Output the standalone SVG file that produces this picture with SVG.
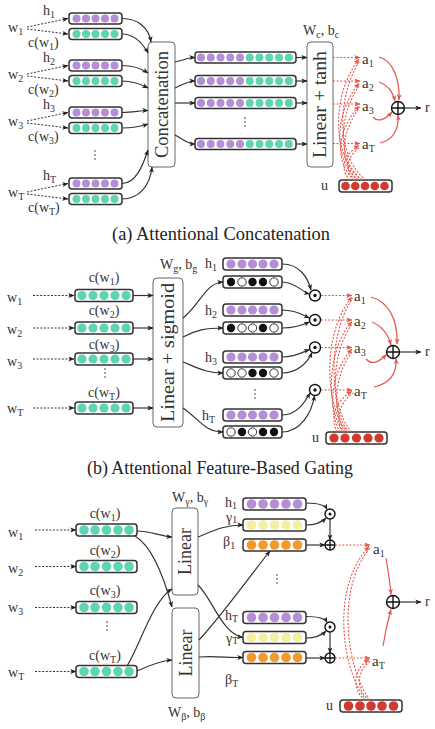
<svg xmlns="http://www.w3.org/2000/svg" width="435" height="729" viewBox="0 0 435 729">
<style>
text{font-family:"Liberation Serif","DejaVu Serif",serif;fill:#333;font-size:14px}
.s{font-size:10px}
.lb{font-size:15px}
.big{font-size:18px}
.cap{font-size:18px;fill:#222}
.box{fill:#fff;stroke:#333;stroke-width:1.5}
.lbox{fill:#fff;stroke:#666;stroke-width:1}
.c{stroke:#333;stroke-width:1.2;fill:none}
.d{stroke:#333;stroke-width:1;stroke-dasharray:2 1.6;fill:none}
.rd{stroke:#E4574C;stroke-width:1.1;stroke-dasharray:2 1.6;fill:none}
.rs{stroke:#E4574C;stroke-width:1.2;fill:none}
.p{fill:#B58FD6}
.g{fill:#5FD4B2}
.y{fill:#F4EFA2}
.o{fill:#F29A2C}
.r{fill:#D23A31}
.k{fill:#111}
.w{fill:#fff;stroke:#222;stroke-width:0.9}
.op{fill:#fff;stroke:#111;stroke-width:1.4}
.dot{fill:#333}
</style>
<defs>
<marker id="ah" viewBox="0 0 8 8" refX="7.5" refY="4" markerWidth="6" markerHeight="6" orient="auto" markerUnits="userSpaceOnUse"><path d="M0,0.8 L8,4 L0,7.2 L2,4 z" fill="#222"/></marker>
<marker id="ar" viewBox="0 0 8 8" refX="7.5" refY="4" markerWidth="6" markerHeight="6" orient="auto" markerUnits="userSpaceOnUse"><path d="M0,0.8 L8,4 L0,7.2 L2,4 z" fill="#E4574C"/></marker>
</defs>

<!-- ================= Panel (a) ================= -->
<g id="a-inputs">
<text x="8" y="32">w<tspan class="s" dy="3">1</tspan></text>
<text x="8" y="79">w<tspan class="s" dy="3">2</tspan></text>
<text x="8" y="126">w<tspan class="s" dy="3">3</tspan></text>
<text x="8" y="197">w<tspan class="s" dy="3">T</tspan></text>
<text x="43" y="15">h<tspan class="s" dy="3">1</tspan></text>
<text x="43" y="62">h<tspan class="s" dy="3">2</tspan></text>
<text x="43" y="109">h<tspan class="s" dy="3">3</tspan></text>
<text x="43" y="180">h<tspan class="s" dy="3">T</tspan></text>
<text x="28" y="47">c(w<tspan class="s" dy="3">1</tspan><tspan dy="-3">)</tspan></text>
<text x="28" y="94">c(w<tspan class="s" dy="3">2</tspan><tspan dy="-3">)</tspan></text>
<text x="28" y="141">c(w<tspan class="s" dy="3">3</tspan><tspan dy="-3">)</tspan></text>
<text x="28" y="212">c(w<tspan class="s" dy="3">T</tspan><tspan dy="-3">)</tspan></text>
<circle class="dot" cx="95" cy="151" r="0.8"/><circle class="dot" cx="95" cy="155" r="0.8"/><circle class="dot" cx="95" cy="159" r="0.8"/>
</g>
<g id="a-h1"><rect class="box" x="69" y="13" width="53" height="11" rx="3"/>
<circle class="p" cx="76.5" cy="18.5" r="4"/><circle class="p" cx="86" cy="18.5" r="4"/><circle class="p" cx="95.5" cy="18.5" r="4"/><circle class="p" cx="105" cy="18.5" r="4"/><circle class="p" cx="114.5" cy="18.5" r="4"/></g>
<g id="a-c1"><rect class="box" x="69" y="28.5" width="53" height="11" rx="3"/>
<circle class="g" cx="76.5" cy="34" r="4"/><circle class="g" cx="86" cy="34" r="4"/><circle class="g" cx="95.5" cy="34" r="4"/><circle class="g" cx="105" cy="34" r="4"/><circle class="g" cx="114.5" cy="34" r="4"/></g>
<g id="a-h2"><rect class="box" x="69" y="60" width="53" height="11" rx="3"/>
<circle class="p" cx="76.5" cy="65.5" r="4"/><circle class="p" cx="86" cy="65.5" r="4"/><circle class="p" cx="95.5" cy="65.5" r="4"/><circle class="p" cx="105" cy="65.5" r="4"/><circle class="p" cx="114.5" cy="65.5" r="4"/></g>
<g id="a-c2"><rect class="box" x="69" y="75.5" width="53" height="11" rx="3"/>
<circle class="g" cx="76.5" cy="81" r="4"/><circle class="g" cx="86" cy="81" r="4"/><circle class="g" cx="95.5" cy="81" r="4"/><circle class="g" cx="105" cy="81" r="4"/><circle class="g" cx="114.5" cy="81" r="4"/></g>
<g id="a-h3"><rect class="box" x="69" y="107" width="53" height="11" rx="3"/>
<circle class="p" cx="76.5" cy="112.5" r="4"/><circle class="p" cx="86" cy="112.5" r="4"/><circle class="p" cx="95.5" cy="112.5" r="4"/><circle class="p" cx="105" cy="112.5" r="4"/><circle class="p" cx="114.5" cy="112.5" r="4"/></g>
<g id="a-c3"><rect class="box" x="69" y="122.5" width="53" height="11" rx="3"/>
<circle class="g" cx="76.5" cy="128" r="4"/><circle class="g" cx="86" cy="128" r="4"/><circle class="g" cx="95.5" cy="128" r="4"/><circle class="g" cx="105" cy="128" r="4"/><circle class="g" cx="114.5" cy="128" r="4"/></g>
<g id="a-hT"><rect class="box" x="69" y="178" width="53" height="11" rx="3"/>
<circle class="p" cx="76.5" cy="183.5" r="4"/><circle class="p" cx="86" cy="183.5" r="4"/><circle class="p" cx="95.5" cy="183.5" r="4"/><circle class="p" cx="105" cy="183.5" r="4"/><circle class="p" cx="114.5" cy="183.5" r="4"/></g>
<g id="a-cT"><rect class="box" x="69" y="193.5" width="53" height="11" rx="3"/>
<circle class="g" cx="76.5" cy="199" r="4"/><circle class="g" cx="86" cy="199" r="4"/><circle class="g" cx="95.5" cy="199" r="4"/><circle class="g" cx="105" cy="199" r="4"/><circle class="g" cx="114.5" cy="199" r="4"/></g>

<g id="a-concat"><rect class="lbox" x="148" y="42" width="27" height="125" rx="4"/>
<text class="big" transform="translate(161.5,104.5) rotate(-90)" text-anchor="middle" dominant-baseline="central" textLength="107" lengthAdjust="spacingAndGlyphs">Concatenation</text></g>

<g id="a-l1"><rect class="box" x="195" y="52" width="101" height="11" rx="3"/>
<circle class="p" cx="201" cy="57.5" r="4"/><circle class="p" cx="210.75" cy="57.5" r="4"/><circle class="p" cx="220.5" cy="57.5" r="4"/><circle class="p" cx="230.25" cy="57.5" r="4"/><circle class="p" cx="240" cy="57.5" r="4"/><circle class="g" cx="249.75" cy="57.5" r="4"/><circle class="g" cx="259.5" cy="57.5" r="4"/><circle class="g" cx="269.25" cy="57.5" r="4"/><circle class="g" cx="279" cy="57.5" r="4"/><circle class="g" cx="288.75" cy="57.5" r="4"/></g>
<g id="a-l2"><rect class="box" x="195" y="75.5" width="101" height="11" rx="3"/>
<circle class="p" cx="201" cy="81" r="4"/><circle class="p" cx="210.75" cy="81" r="4"/><circle class="p" cx="220.5" cy="81" r="4"/><circle class="p" cx="230.25" cy="81" r="4"/><circle class="p" cx="240" cy="81" r="4"/><circle class="g" cx="249.75" cy="81" r="4"/><circle class="g" cx="259.5" cy="81" r="4"/><circle class="g" cx="269.25" cy="81" r="4"/><circle class="g" cx="279" cy="81" r="4"/><circle class="g" cx="288.75" cy="81" r="4"/></g>
<g id="a-l3"><rect class="box" x="195" y="97.5" width="101" height="11" rx="3"/>
<circle class="p" cx="201" cy="103" r="4"/><circle class="p" cx="210.75" cy="103" r="4"/><circle class="p" cx="220.5" cy="103" r="4"/><circle class="p" cx="230.25" cy="103" r="4"/><circle class="p" cx="240" cy="103" r="4"/><circle class="g" cx="249.75" cy="103" r="4"/><circle class="g" cx="259.5" cy="103" r="4"/><circle class="g" cx="269.25" cy="103" r="4"/><circle class="g" cx="279" cy="103" r="4"/><circle class="g" cx="288.75" cy="103" r="4"/></g>
<g id="a-lT"><rect class="box" x="195" y="138.5" width="101" height="11" rx="3"/>
<circle class="p" cx="201" cy="144" r="4"/><circle class="p" cx="210.75" cy="144" r="4"/><circle class="p" cx="220.5" cy="144" r="4"/><circle class="p" cx="230.25" cy="144" r="4"/><circle class="p" cx="240" cy="144" r="4"/><circle class="g" cx="249.75" cy="144" r="4"/><circle class="g" cx="259.5" cy="144" r="4"/><circle class="g" cx="269.25" cy="144" r="4"/><circle class="g" cx="279" cy="144" r="4"/><circle class="g" cx="288.75" cy="144" r="4"/></g>
<g id="a-ldots"><circle class="dot" cx="245" cy="118" r="0.8"/><circle class="dot" cx="245" cy="122" r="0.8"/><circle class="dot" cx="245" cy="126" r="0.8"/></g>

<g id="a-tanh"><rect class="lbox" x="307" y="42" width="26" height="125" rx="4"/>
<text class="big" transform="translate(320,104.5) rotate(-90)" text-anchor="middle" dominant-baseline="central" textLength="107" lengthAdjust="spacingAndGlyphs">Linear + tanh</text>
<text x="303" y="35">W<tspan class="s" dy="3">c</tspan><tspan dy="-3">, b</tspan><tspan class="s" dy="3">c</tspan></text></g>

<g id="a-att">
<text class="lb" x="362" y="64">a<tspan class="s" dy="3">1</tspan></text>
<text class="lb" x="362" y="88">a<tspan class="s" dy="3">2</tspan></text>
<text class="lb" x="362" y="111">a<tspan class="s" dy="3">3</tspan></text>
<text class="lb" x="362" y="149">a<tspan class="s" dy="3">T</tspan></text>
</g>
<g id="a-sum"><circle class="op" cx="398" cy="108" r="6.5"/><path d="M391.5,108 H404.5 M398,101.5 V114.5" stroke="#111" stroke-width="1.4"/>
<text x="425" y="112">r</text></g>
<g id="a-u"><text x="321" y="190">u</text><rect class="box" x="339" y="180" width="53" height="12" rx="3"/>
<circle class="r" cx="345.5" cy="186" r="4.3"/><circle class="r" cx="355.25" cy="186" r="4.3"/><circle class="r" cx="365" cy="186" r="4.3"/><circle class="r" cx="374.75" cy="186" r="4.3"/><circle class="r" cx="384.5" cy="186" r="4.3"/></g>

<g id="a-connectors">
<path class="d" d="M27,27 L68,18.5" marker-end="url(#ah)"/><path class="d" d="M27,29 L68,34" marker-end="url(#ah)"/>
<path class="d" d="M27,74 L68,65.5" marker-end="url(#ah)"/><path class="d" d="M27,76 L68,81" marker-end="url(#ah)"/>
<path class="d" d="M27,121 L68,112.5" marker-end="url(#ah)"/><path class="d" d="M27,123 L68,128" marker-end="url(#ah)"/>
<path class="d" d="M27,192 L68,183.5" marker-end="url(#ah)"/><path class="d" d="M27,194 L68,199" marker-end="url(#ah)"/>
<path class="c" d="M122,18.5 C138,18.5 149,28 151,42" marker-end="url(#ah)"/>
<path class="c" d="M122,34 C135,34 143,44 148,53" marker-end="url(#ah)"/>
<path class="c" d="M122,65.5 C135,65.5 142,69 148,73" marker-end="url(#ah)"/>
<path class="c" d="M122,81 C135,81 142,85 148,88" marker-end="url(#ah)"/>
<path class="c" d="M122,112.5 C133,112.5 140,110.5 148,110.5" marker-end="url(#ah)"/>
<path class="c" d="M122,128 C135,128 142,126 148,124" marker-end="url(#ah)"/>
<path class="c" d="M122,183.5 C136,183.5 143,165 148,150" marker-end="url(#ah)"/>
<path class="c" d="M122,199 C139,199 150,186 152,167" marker-end="url(#ah)"/>
<path class="c" d="M175,62 C184,60 188,57.5 195,57.5" marker-end="url(#ah)"/>
<path class="c" d="M175,88 C184,84 188,81 195,81" marker-end="url(#ah)"/>
<path class="c" d="M175,103 L195,103" marker-end="url(#ah)"/>
<path class="c" d="M175,135 C184,140 188,144 195,144" marker-end="url(#ah)"/>
<path class="c" d="M296,57.5 L307,57.5" marker-end="url(#ah)"/>
<path class="c" d="M296,81 L307,81" marker-end="url(#ah)"/>
<path class="c" d="M296,103 L307,103" marker-end="url(#ah)"/>
<path class="c" d="M296,144 L307,144" marker-end="url(#ah)"/>
<path class="rd" d="M333,57.5 L360,57.5" marker-end="url(#ar)"/>
<path class="rd" d="M333,81 L360,81" marker-end="url(#ar)"/>
<path class="rd" d="M333,104 L360,104" marker-end="url(#ar)"/>
<path class="rd" d="M333,143.5 L360,143.5" marker-end="url(#ar)"/>
<path class="rd" d="M362,180 C335,162 328,100 359,59" marker-end="url(#ar)"/>
<path class="rd" d="M366,180 C340,162 333,104 360,60" />
<path class="rd" d="M358,180 C335,162 332,118 359,83" marker-end="url(#ar)"/>
<path class="rd" d="M362,180 C339,162 336,120 360,84"/>
<path class="rd" d="M354,180 C335,162 336,132 359,106" marker-end="url(#ar)"/>
<path class="rd" d="M358,180 C339,162 340,134 360,107"/>
<path class="rd" d="M350,180 C340,170 342,156 359,145.5" marker-end="url(#ar)"/>
<path class="rd" d="M355,180 C344,170 346,158 360,147"/>
<path class="rs" d="M379,57 C392,60 400,78 399,100" marker-end="url(#ar)"/>
<path class="rs" d="M379,82 C388,85 393,92 395,101" marker-end="url(#ar)"/>
<path class="rs" d="M373,117 C378,123 386,119 392,112" marker-end="url(#ar)"/>
<path class="rs" d="M380,143 C394,140 399,128 398,115" marker-end="url(#ar)"/>
<path class="c" d="M404.5,108 L421,108" marker-end="url(#ah)"/>
</g>
<text class="cap" x="221" y="240" text-anchor="middle" textLength="218" lengthAdjust="spacingAndGlyphs">(a) Attentional Concatenation</text>

<!-- ================= Panel (b) ================= -->
<g id="b-inputs">
<text x="7" y="302">w<tspan class="s" dy="3">1</tspan></text>
<text x="7" y="334">w<tspan class="s" dy="3">2</tspan></text>
<text x="7" y="366">w<tspan class="s" dy="3">3</tspan></text>
<text x="7" y="413">w<tspan class="s" dy="3">T</tspan></text>
<text x="104" y="282" text-anchor="middle">c(w<tspan class="s" dy="3">1</tspan><tspan dy="-3">)</tspan></text>
<text x="104" y="315" text-anchor="middle">c(w<tspan class="s" dy="3">2</tspan><tspan dy="-3">)</tspan></text>
<text x="104" y="349" text-anchor="middle">c(w<tspan class="s" dy="3">3</tspan><tspan dy="-3">)</tspan></text>
<text x="104" y="397" text-anchor="middle">c(w<tspan class="s" dy="3">T</tspan><tspan dy="-3">)</tspan></text>
<circle class="dot" cx="105" cy="369" r="0.8"/><circle class="dot" cx="105" cy="373" r="0.8"/><circle class="dot" cx="105" cy="377" r="0.8"/>
</g>
<g id="b-c1"><rect class="box" x="75" y="289.5" width="58" height="12" rx="3"/>
<circle class="g" cx="82" cy="295.5" r="4.6"/><circle class="g" cx="93" cy="295.5" r="4.6"/><circle class="g" cx="104" cy="295.5" r="4.6"/><circle class="g" cx="115" cy="295.5" r="4.6"/><circle class="g" cx="126" cy="295.5" r="4.6"/></g>
<g id="b-c2"><rect class="box" x="75" y="322" width="58" height="12" rx="3"/>
<circle class="g" cx="82" cy="328" r="4.6"/><circle class="g" cx="93" cy="328" r="4.6"/><circle class="g" cx="104" cy="328" r="4.6"/><circle class="g" cx="115" cy="328" r="4.6"/><circle class="g" cx="126" cy="328" r="4.6"/></g>
<g id="b-c3"><rect class="box" x="75" y="353" width="58" height="12" rx="3"/>
<circle class="g" cx="82" cy="359" r="4.6"/><circle class="g" cx="93" cy="359" r="4.6"/><circle class="g" cx="104" cy="359" r="4.6"/><circle class="g" cx="115" cy="359" r="4.6"/><circle class="g" cx="126" cy="359" r="4.6"/></g>
<g id="b-cT"><rect class="box" x="75" y="402" width="58" height="12" rx="3"/>
<circle class="g" cx="82" cy="408" r="4.6"/><circle class="g" cx="93" cy="408" r="4.6"/><circle class="g" cx="104" cy="408" r="4.6"/><circle class="g" cx="115" cy="408" r="4.6"/><circle class="g" cx="126" cy="408" r="4.6"/></g>

<g id="b-sigmoid"><rect class="lbox" x="153" y="278" width="30" height="149" rx="4"/>
<text class="big" transform="translate(168,352.5) rotate(-90)" text-anchor="middle" dominant-baseline="central" textLength="139" lengthAdjust="spacingAndGlyphs">Linear + sigmoid</text>
<text x="160" y="269">W<tspan class="s" dy="3">g</tspan><tspan dy="-3">, b</tspan><tspan class="s" dy="3">g</tspan></text></g>

<g id="b-hlabels">
<text x="205" y="268">h<tspan class="s" dy="3">1</tspan></text>
<text x="205" y="315">h<tspan class="s" dy="3">2</tspan></text>
<text x="205" y="362">h<tspan class="s" dy="3">3</tspan></text>
<text x="202" y="420">h<tspan class="s" dy="3">T</tspan></text>
<circle class="dot" cx="255" cy="390" r="0.8"/><circle class="dot" cx="255" cy="394" r="0.8"/><circle class="dot" cx="255" cy="398" r="0.8"/>
</g>
<g id="b-h1"><rect class="box" x="223" y="258" width="59" height="12" rx="3"/>
<circle class="p" cx="231" cy="264" r="4.6"/><circle class="p" cx="242" cy="264" r="4.6"/><circle class="p" cx="252.5" cy="264" r="4.6"/><circle class="p" cx="263" cy="264" r="4.6"/><circle class="p" cx="274" cy="264" r="4.6"/></g>
<g id="b-g1"><rect class="box" x="223" y="276" width="59" height="12" rx="3"/>
<circle class="k" cx="231" cy="282" r="4.2"/><circle class="w" cx="242" cy="282" r="4.2"/><circle class="k" cx="252.5" cy="282" r="4.2"/><circle class="k" cx="263" cy="282" r="4.2"/><circle class="w" cx="274" cy="282" r="4.2"/></g>
<g id="b-h2"><rect class="box" x="223" y="304" width="59" height="12" rx="3"/>
<circle class="p" cx="231" cy="310" r="4.6"/><circle class="p" cx="242" cy="310" r="4.6"/><circle class="p" cx="252.5" cy="310" r="4.6"/><circle class="p" cx="263" cy="310" r="4.6"/><circle class="p" cx="274" cy="310" r="4.6"/></g>
<g id="b-g2"><rect class="box" x="223" y="322" width="59" height="12" rx="3"/>
<circle class="k" cx="231" cy="328" r="4.2"/><circle class="w" cx="242" cy="328" r="4.2"/><circle class="w" cx="252.5" cy="328" r="4.2"/><circle class="k" cx="263" cy="328" r="4.2"/><circle class="w" cx="274" cy="328" r="4.2"/></g>
<g id="b-h3"><rect class="box" x="223" y="351" width="59" height="12" rx="3"/>
<circle class="p" cx="231" cy="357" r="4.6"/><circle class="p" cx="242" cy="357" r="4.6"/><circle class="p" cx="252.5" cy="357" r="4.6"/><circle class="p" cx="263" cy="357" r="4.6"/><circle class="p" cx="274" cy="357" r="4.6"/></g>
<g id="b-g3"><rect class="box" x="223" y="367" width="59" height="12" rx="3"/>
<circle class="w" cx="231" cy="373" r="4.2"/><circle class="w" cx="242" cy="373" r="4.2"/><circle class="k" cx="252.5" cy="373" r="4.2"/><circle class="k" cx="263" cy="373" r="4.2"/><circle class="w" cx="274" cy="373" r="4.2"/></g>
<g id="b-hT"><rect class="box" x="223" y="409" width="59" height="12" rx="3"/>
<circle class="p" cx="231" cy="415" r="4.6"/><circle class="p" cx="242" cy="415" r="4.6"/><circle class="p" cx="252.5" cy="415" r="4.6"/><circle class="p" cx="263" cy="415" r="4.6"/><circle class="p" cx="274" cy="415" r="4.6"/></g>
<g id="b-gT"><rect class="box" x="223" y="426" width="59" height="12" rx="3"/>
<circle class="w" cx="231" cy="432" r="4.2"/><circle class="k" cx="242" cy="432" r="4.2"/><circle class="w" cx="252.5" cy="432" r="4.2"/><circle class="k" cx="263" cy="432" r="4.2"/><circle class="k" cx="274" cy="432" r="4.2"/></g>

<g id="b-odots">
<circle class="op" cx="315" cy="295.5" r="5.5"/><circle cx="315" cy="295.5" r="1.7" fill="#111"/>
<circle class="op" cx="315" cy="320" r="5.5"/><circle cx="315" cy="320" r="1.7" fill="#111"/>
<circle class="op" cx="315" cy="347.5" r="5.5"/><circle cx="315" cy="347.5" r="1.7" fill="#111"/>
<circle class="op" cx="315" cy="390" r="5.5"/><circle cx="315" cy="390" r="1.7" fill="#111"/>
</g>
<g id="b-att">
<text class="lb" x="354" y="301">a<tspan class="s" dy="3">1</tspan></text>
<text class="lb" x="354" y="326">a<tspan class="s" dy="3">2</tspan></text>
<text class="lb" x="354" y="353">a<tspan class="s" dy="3">3</tspan></text>
<text class="lb" x="354" y="396">a<tspan class="s" dy="3">T</tspan></text>
</g>
<g id="b-sum"><circle class="op" cx="393" cy="352" r="6.5"/><path d="M386.5,352 H399.5 M393,345.5 V358.5" stroke="#111" stroke-width="1.4"/>
<text x="425" y="356">r</text></g>
<g id="b-u"><text x="312" y="442">u</text><rect class="box" x="326" y="432" width="61" height="12" rx="3"/>
<circle class="r" cx="334" cy="438" r="4.6"/><circle class="r" cx="345" cy="438" r="4.6"/><circle class="r" cx="356.5" cy="438" r="4.6"/><circle class="r" cx="368" cy="438" r="4.6"/><circle class="r" cx="379" cy="438" r="4.6"/></g>

<g id="b-connectors">
<path class="d" d="M33,295.5 L74,295.5" marker-end="url(#ah)"/>
<path class="d" d="M33,328 L74,328" marker-end="url(#ah)"/>
<path class="d" d="M33,359 L74,359" marker-end="url(#ah)"/>
<path class="d" d="M33,408 L74,408" marker-end="url(#ah)"/>
<path class="c" d="M133,295.5 L153,295.5" marker-end="url(#ah)"/>
<path class="c" d="M133,328 L153,328" marker-end="url(#ah)"/>
<path class="c" d="M133,359 L153,359" marker-end="url(#ah)"/>
<path class="c" d="M133,408 L153,408" marker-end="url(#ah)"/>
<path class="c" d="M183,318 C200,305 205,283 223,282" marker-end="url(#ah)"/>
<path class="c" d="M183,337 C196,330 206,328 223,328" marker-end="url(#ah)"/>
<path class="c" d="M183,362 C198,368 206,373 223,373" marker-end="url(#ah)"/>
<path class="c" d="M183,408 C200,420 205,432 223,432" marker-end="url(#ah)"/>
<path class="c" d="M282,264 C300,264 308,278 311,290" marker-end="url(#ah)"/>
<path class="c" d="M282,282 C295,282 302,292 309.5,294" marker-end="url(#ah)"/>
<path class="c" d="M282,310 C296,310 303,315 309.5,318" marker-end="url(#ah)"/>
<path class="c" d="M282,328 C296,328 303,325 309.5,322" marker-end="url(#ah)"/>
<path class="c" d="M282,357 C296,357 303,352 309.5,349.5" marker-end="url(#ah)"/>
<path class="c" d="M282,373 C298,373 308,362 312,352.5" marker-end="url(#ah)"/>
<path class="c" d="M282,415 C297,415 305,402 310,393" marker-end="url(#ah)"/>
<path class="c" d="M282,432 C301,432 312,412 314.5,395.5" marker-end="url(#ah)"/>
<path class="rd" d="M321,295.5 L352,295.5" marker-end="url(#ar)"/>
<path class="rd" d="M321,320 L352,320" marker-end="url(#ar)"/>
<path class="rd" d="M321,347.5 L352,347.5" marker-end="url(#ar)"/>
<path class="rd" d="M321,390 L352,390" marker-end="url(#ar)"/>
<path class="rd" d="M348,432 C326,412 320,335 352,297" marker-end="url(#ar)"/>
<path class="rd" d="M352,432 C331,412 325,338 353,298"/>
<path class="rd" d="M344,432 C326,412 326,350 352,321.5" marker-end="url(#ar)"/>
<path class="rd" d="M349,432 C330,412 330,352 353,323"/>
<path class="rd" d="M340,432 C328,412 330,372 352,349" marker-end="url(#ar)"/>
<path class="rd" d="M345,432 C332,412 334,374 353,350.5"/>
<path class="rd" d="M337,432 C331,420 333,402 352,391.5" marker-end="url(#ar)"/>
<path class="rd" d="M342,432 C336,420 338,404 353,393"/>
<path class="rs" d="M371,297 C389,302 398,320 397,344" marker-end="url(#ar)"/>
<path class="rs" d="M372,322 C382,326 388,334 391,345" marker-end="url(#ar)"/>
<path class="rs" d="M366,359 C372,366 380,361 386.5,354.5" marker-end="url(#ar)"/>
<path class="rs" d="M374,387 C391,383 397,372 396,358.5" marker-end="url(#ar)"/>
<path class="c" d="M399.5,352 L421,352" marker-end="url(#ah)"/>
</g>
<text class="cap" x="220" y="474" text-anchor="middle" textLength="266" lengthAdjust="spacingAndGlyphs">(b) Attentional Feature-Based Gating</text>

<!-- ================= Panel (c) ================= -->
<g id="c-inputs">
<text x="8" y="537">w<tspan class="s" dy="3">1</tspan></text>
<text x="8" y="573">w<tspan class="s" dy="3">2</tspan></text>
<text x="8" y="612">w<tspan class="s" dy="3">3</tspan></text>
<text x="8" y="677">w<tspan class="s" dy="3">T</tspan></text>
<text x="105" y="518" text-anchor="middle">c(w<tspan class="s" dy="3">1</tspan><tspan dy="-3">)</tspan></text>
<text x="105" y="555" text-anchor="middle">c(w<tspan class="s" dy="3">2</tspan><tspan dy="-3">)</tspan></text>
<text x="105" y="595" text-anchor="middle">c(w<tspan class="s" dy="3">3</tspan><tspan dy="-3">)</tspan></text>
<text x="105" y="660" text-anchor="middle">c(w<tspan class="s" dy="3">T</tspan><tspan dy="-3">)</tspan></text>
<circle class="dot" cx="107" cy="622" r="0.8"/><circle class="dot" cx="107" cy="626" r="0.8"/><circle class="dot" cx="107" cy="630" r="0.8"/>
</g>
<g id="c-c1"><rect class="box" x="76" y="524" width="61" height="12" rx="3"/>
<circle class="g" cx="84" cy="530" r="4.8"/><circle class="g" cx="95" cy="530" r="4.8"/><circle class="g" cx="106.5" cy="530" r="4.8"/><circle class="g" cx="118" cy="530" r="4.8"/><circle class="g" cx="129" cy="530" r="4.8"/></g>
<g id="c-c2"><rect class="box" x="76" y="560.5" width="61" height="12" rx="3"/>
<circle class="g" cx="84" cy="566.5" r="4.8"/><circle class="g" cx="95" cy="566.5" r="4.8"/><circle class="g" cx="106.5" cy="566.5" r="4.8"/><circle class="g" cx="118" cy="566.5" r="4.8"/><circle class="g" cx="129" cy="566.5" r="4.8"/></g>
<g id="c-c3"><rect class="box" x="76" y="601.5" width="61" height="12" rx="3"/>
<circle class="g" cx="84" cy="607.5" r="4.8"/><circle class="g" cx="95" cy="607.5" r="4.8"/><circle class="g" cx="106.5" cy="607.5" r="4.8"/><circle class="g" cx="118" cy="607.5" r="4.8"/><circle class="g" cx="129" cy="607.5" r="4.8"/></g>
<g id="c-cT"><rect class="box" x="76" y="665.5" width="61" height="12" rx="3"/>
<circle class="g" cx="84" cy="671.5" r="4.8"/><circle class="g" cx="95" cy="671.5" r="4.8"/><circle class="g" cx="106.5" cy="671.5" r="4.8"/><circle class="g" cx="118" cy="671.5" r="4.8"/><circle class="g" cx="129" cy="671.5" r="4.8"/></g>

<g id="c-lin-gamma"><rect class="lbox" x="172" y="508" width="26" height="87" rx="4"/>
<text class="big" transform="translate(185,551.5) rotate(-90)" text-anchor="middle" dominant-baseline="central">Linear</text>
<text x="172" y="502">W<tspan class="s" dy="3">γ</tspan><tspan dy="-3">, b</tspan><tspan class="s" dy="3">γ</tspan></text></g>
<g id="c-lin-beta"><rect class="lbox" x="172" y="608" width="27" height="90" rx="4"/>
<text class="big" transform="translate(185.5,653) rotate(-90)" text-anchor="middle" dominant-baseline="central">Linear</text>
<text x="168" y="717">W<tspan class="s" dy="3">β</tspan><tspan dy="-3">, b</tspan><tspan class="s" dy="3">β</tspan></text></g>

<g id="c-rlabels">
<text x="225" y="507">h<tspan class="s" dy="2">1</tspan></text>
<text x="226" y="522">γ<tspan class="s" dy="1">1</tspan></text>
<text x="223" y="546">β<tspan class="s" dy="3">1</tspan></text>
<text x="225" y="620">h<tspan class="s" dy="2">T</tspan></text>
<text x="226" y="643">γ<tspan class="s" dy="1">T</tspan></text>
<text x="225" y="684">β<tspan class="s" dy="3">T</tspan></text>
<circle class="dot" cx="277" cy="575" r="0.8"/><circle class="dot" cx="277" cy="579" r="0.8"/><circle class="dot" cx="277" cy="583" r="0.8"/>
</g>
<g id="c-h1"><rect class="box" x="243" y="498" width="63" height="12" rx="3"/>
<circle class="p" cx="251.5" cy="504" r="4.8"/><circle class="p" cx="263" cy="504" r="4.8"/><circle class="p" cx="274.5" cy="504" r="4.8"/><circle class="p" cx="286" cy="504" r="4.8"/><circle class="p" cx="297.5" cy="504" r="4.8"/></g>
<g id="c-y1"><rect class="box" x="243" y="519" width="63" height="12" rx="3"/>
<circle class="y" cx="251.5" cy="525" r="4.8"/><circle class="y" cx="263" cy="525" r="4.8"/><circle class="y" cx="274.5" cy="525" r="4.8"/><circle class="y" cx="286" cy="525" r="4.8"/><circle class="y" cx="297.5" cy="525" r="4.8"/></g>
<g id="c-b1"><rect class="box" x="243" y="539" width="63" height="12" rx="3"/>
<circle class="o" cx="251.5" cy="545" r="4.8"/><circle class="o" cx="263" cy="545" r="4.8"/><circle class="o" cx="274.5" cy="545" r="4.8"/><circle class="o" cx="286" cy="545" r="4.8"/><circle class="o" cx="297.5" cy="545" r="4.8"/></g>
<g id="c-hT"><rect class="box" x="243" y="611.5" width="63" height="12" rx="3"/>
<circle class="p" cx="251.5" cy="617.5" r="4.8"/><circle class="p" cx="263" cy="617.5" r="4.8"/><circle class="p" cx="274.5" cy="617.5" r="4.8"/><circle class="p" cx="286" cy="617.5" r="4.8"/><circle class="p" cx="297.5" cy="617.5" r="4.8"/></g>
<g id="c-yT"><rect class="box" x="243" y="631.5" width="63" height="12" rx="3"/>
<circle class="y" cx="251.5" cy="637.5" r="4.8"/><circle class="y" cx="263" cy="637.5" r="4.8"/><circle class="y" cx="274.5" cy="637.5" r="4.8"/><circle class="y" cx="286" cy="637.5" r="4.8"/><circle class="y" cx="297.5" cy="637.5" r="4.8"/></g>
<g id="c-bT"><rect class="box" x="243" y="651.5" width="63" height="12" rx="3"/>
<circle class="o" cx="251.5" cy="657.5" r="4.8"/><circle class="o" cx="263" cy="657.5" r="4.8"/><circle class="o" cx="274.5" cy="657.5" r="4.8"/><circle class="o" cx="286" cy="657.5" r="4.8"/><circle class="o" cx="297.5" cy="657.5" r="4.8"/></g>

<g id="c-ops">
<circle class="op" cx="330" cy="514" r="5"/><circle cx="330" cy="514" r="1.5" fill="#111"/>
<circle class="op" cx="330" cy="545" r="5"/><path d="M325,545 H335 M330,540 V550" stroke="#111" stroke-width="1.3"/>
<circle class="op" cx="330" cy="627" r="5"/><circle cx="330" cy="627" r="1.5" fill="#111"/>
<circle class="op" cx="330" cy="658" r="5"/><path d="M325,658 H335 M330,653 V663" stroke="#111" stroke-width="1.3"/>
</g>
<g id="c-att">
<text class="lb" x="373" y="554">a<tspan class="s" dy="3">1</tspan></text>
<text class="lb" x="372" y="666">a<tspan class="s" dy="3">T</tspan></text>
</g>
<g id="c-sum"><circle class="op" cx="393" cy="602" r="6.5"/><path d="M386.5,602 H399.5 M393,595.5 V608.5" stroke="#111" stroke-width="1.4"/>
<text x="425" y="606">r</text></g>
<g id="c-u"><text x="326" y="710">u</text><rect class="box" x="340" y="700" width="62" height="12" rx="3"/>
<circle class="r" cx="348.5" cy="706" r="4.8"/><circle class="r" cx="360" cy="706" r="4.8"/><circle class="r" cx="371" cy="706" r="4.8"/><circle class="r" cx="382" cy="706" r="4.8"/><circle class="r" cx="393.5" cy="706" r="4.8"/></g>

<g id="c-connectors">
<path class="d" d="M35,530 L76,530" marker-end="url(#ah)"/>
<path class="d" d="M35,566.5 L76,566.5" marker-end="url(#ah)"/>
<path class="d" d="M35,607.5 L76,607.5" marker-end="url(#ah)"/>
<path class="d" d="M35,671.5 L76,671.5" marker-end="url(#ah)"/>
<path class="c" d="M137,531 C150,531 160,536 172,537" marker-end="url(#ah)"/>
<path class="c" d="M135,536 C150,545 162,570 172,607" marker-end="url(#ah)"/>
<path class="c" d="M127,666 C140,645 153,600 172,589" marker-end="url(#ah)"/>
<path class="c" d="M137,671 C150,665 160,661 172,660" marker-end="url(#ah)"/>
<path class="c" d="M198,537 C215,530 225,525 243,525" marker-end="url(#ah)"/>
<path class="c" d="M198,585 C212,598 222,634 243,637.5" marker-end="url(#ah)"/>
<path class="c" d="M199,640 C222,615 250,576 270,551" marker-end="url(#ah)"/>
<path class="c" d="M199,657 C215,656 225,657.5 243,657.5" marker-end="url(#ah)"/>
<path class="c" d="M306,503 C318,503 325,505 327,509.5" marker-end="url(#ah)"/>
<path class="c" d="M306,525 C317,525 322,522 326,518" marker-end="url(#ah)"/>
<path class="c" d="M330,519 L330,540" marker-end="url(#ah)"/>
<path class="c" d="M306,545 L325,545" marker-end="url(#ah)"/>
<path class="c" d="M306,616.5 C318,616.5 325,618 327,622.5" marker-end="url(#ah)"/>
<path class="c" d="M306,638 C317,638 322,635 326,631" marker-end="url(#ah)"/>
<path class="c" d="M330,632 L330,653" marker-end="url(#ah)"/>
<path class="c" d="M306,658 L325,658" marker-end="url(#ah)"/>
<path class="rd" d="M335,545 L370,545" marker-end="url(#ar)"/>
<path class="rd" d="M335,658 L370,658" marker-end="url(#ar)"/>
<path class="rd" d="M366,700 C342,670 330,588 369,546.5" marker-end="url(#ar)"/>
<path class="rd" d="M370,700 C347,670 335,590 370,548"/>
<path class="rd" d="M365,700 C352,690 352,670 369,659.5" marker-end="url(#ar)"/>
<path class="rd" d="M369,700 C356,690 356,672 370,661"/>
<path class="rs" d="M386,558 C388,570 390,582 391,594.5" marker-end="url(#ar)"/>
<path class="rs" d="M383,646 C385,633 388,620 391,609.5" marker-end="url(#ar)"/>
<path class="c" d="M399.5,602 L421,602" marker-end="url(#ah)"/>
</g>
</svg>
